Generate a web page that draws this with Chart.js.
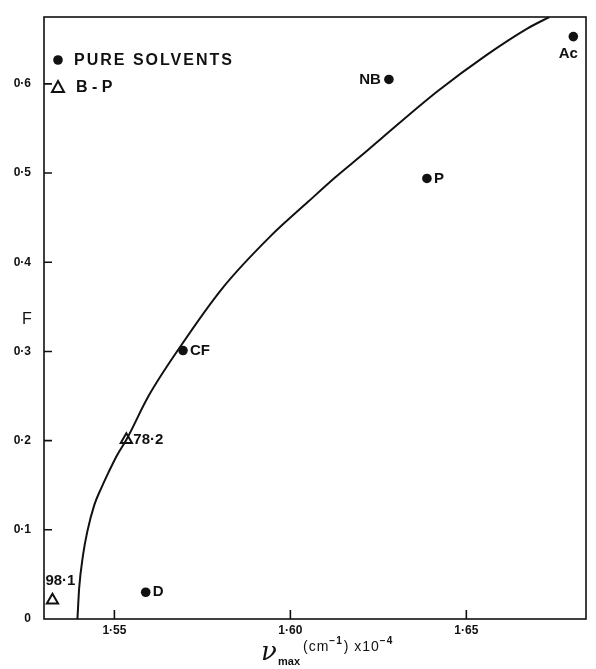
<!DOCTYPE html>
<html><head><meta charset="utf-8">
<script src="https://cdn.jsdelivr.net/npm/chart.js@4.4.0/dist/chart.umd.min.js"></script>
<style>html,body{margin:0;padding:0;background:#fff}#wrap{width:596px;height:669px;position:relative}</style>
</head><body><div id="wrap"><canvas id="c" width="596" height="669"></canvas></div>
<script>
// ---- data ----
const xTicks = [1.55, 1.60, 1.65];
const yTicks = [0, 0.1, 0.2, 0.3, 0.4, 0.5, 0.6];
const solventNames = ['Ac', 'NB', 'P', 'CF', 'D'];
const solventX = [1.6804, 1.6280, 1.6388, 1.5695, 1.5589];
const solventY = [0.653, 0.605, 0.494, 0.301, 0.030];
const mixNames = ['78·2', '98·1'];
const mixX = [1.5534, 1.5324];
const mixY = [0.201, 0.021];
const curveX = [1.5395, 1.5400, 1.5411, 1.5423, 1.5443, 1.5463, 1.5484, 1.5508, 1.5534, 1.5597, 1.5690, 1.5805, 1.5943, 1.6051, 1.6127, 1.6212, 1.6265, 1.6419, 1.6556, 1.6673, 1.6736];
const curveY = [0.000, 0.035, 0.072, 0.098, 0.128, 0.147, 0.165, 0.184, 0.201, 0.250, 0.307, 0.370, 0.429, 0.468, 0.495, 0.523, 0.541, 0.592, 0.632, 0.662, 0.675];
const legendNames = ['PURE SOLVENTS', 'B - P'];

// label placement (style, not data)
const solventLabelPos = ['below', 'left', 'right', 'right', 'right'];
const mixLabelPos = ['right', 'above'];

const INK = '#111';
const FONT = '"Liberation Sans", Arial, sans-serif';

function fmt(v) { return v === 0 ? '0' : v.toFixed(v >= 1 ? 2 : 1).replace('.', '·'); }

const decor = {
  id: 'decor',
  afterDraw(chart) {
    const { ctx, chartArea: a, scales: { x, y } } = chart;
    ctx.save();
    ctx.strokeStyle = INK; ctx.lineWidth = 1.6;
    ctx.strokeRect(a.left, a.top, a.right - a.left, a.bottom - a.top);
    ctx.beginPath();
    yTicks.forEach(v => { if (v === 0) return; const py = y.getPixelForValue(v); ctx.moveTo(a.left, py); ctx.lineTo(a.left + 8, py); });
    xTicks.forEach(v => { const px = x.getPixelForValue(v); ctx.moveTo(px, a.bottom); ctx.lineTo(px, a.bottom - 9); });
    ctx.stroke();

    ctx.fillStyle = INK;
    // point labels
    ctx.font = 'bold 15px ' + FONT;
    ctx.textBaseline = 'middle';
    const s0 = chart.getDatasetMeta(1).data;
    s0.forEach((el, i) => {
      const pos = solventLabelPos[i];
      if (pos === 'below') { ctx.textAlign = 'center'; ctx.fillText(solventNames[i], el.x - 5, el.y + 17); }
      else if (pos === 'left') { ctx.textAlign = 'right'; ctx.fillText(solventNames[i], el.x - 8, el.y); }
      else { ctx.textAlign = 'left'; ctx.fillText(solventNames[i], el.x + 7, el.y); }
    });
    const s1 = chart.getDatasetMeta(2).data;
    s1.forEach((el, i) => {
      const pos = mixLabelPos[i];
      if (pos === 'above') { ctx.textAlign = 'center'; ctx.fillText(mixNames[i], el.x + 8, el.y - 19); }
      else { ctx.textAlign = 'left'; ctx.fillText(mixNames[i], el.x + 7, el.y); }
    });

    // legend
    ctx.font = 'bold 16px ' + FONT;
    ctx.textAlign = 'left';
    try { ctx.letterSpacing = '2px'; } catch (e) {}
    const lx = a.left + 14, ly1 = a.top + 43, ly2 = a.top + 70;
    ctx.beginPath(); ctx.arc(lx, ly1, 4.8, 0, Math.PI * 2); ctx.fill();
    ctx.fillText(legendNames[0], lx + 16, ly1 + 1);
    try { ctx.letterSpacing = '0px'; } catch (e) {}
    ctx.lineWidth = 2;
    ctx.beginPath(); ctx.moveTo(lx, ly2 - 6); ctx.lineTo(lx + 6, ly2 + 5); ctx.lineTo(lx - 6, ly2 + 5); ctx.closePath(); ctx.stroke();
    ctx.fillText(legendNames[1], lx + 18, ly2 + 1);

    // axis titles
    ctx.font = '16px ' + FONT;
    ctx.textAlign = 'center';
    ctx.fillText('F', 27, (a.top + a.bottom) / 2 + 2);
    ctx.textAlign = 'left'; ctx.textBaseline = 'alphabetic';
    ctx.font = 'italic 26px "DejaVu Serif", serif';
    ctx.fillText('ν', 261, 660);
    ctx.font = 'bold 11px ' + FONT;
    ctx.fillText('max', 278, 665);
    let cx = 303;
    try { ctx.letterSpacing = '1px'; } catch (e) {}
    const piece = (t, f, dy) => { ctx.font = f; ctx.fillText(t, cx, 651 + dy); cx += ctx.measureText(t).width; };
    piece('(cm', '14px ' + FONT, 0);
    piece('−1', 'bold 10px ' + FONT, -7);
    cx += 1;
    piece(') x10', '14px ' + FONT, 0);
    piece('−4', 'bold 10px ' + FONT, -7);
    try { ctx.letterSpacing = '0px'; } catch (e) {}
    ctx.restore();
  }
};

new Chart(document.getElementById('c'), {
  type: 'scatter',
  data: {
    datasets: [
      {
        type: 'line',
        data: curveX.map((v, i) => ({ x: v, y: curveY[i] })),
        borderColor: INK, borderWidth: 2, pointRadius: 0, fill: false, cubicInterpolationMode: 'monotone'
      },
      {
        data: solventX.map((v, i) => ({ x: v, y: solventY[i] })),
        pointStyle: 'circle', pointRadius: 4.8, backgroundColor: INK, borderColor: INK, borderWidth: 0
      },
      {
        data: mixX.map((v, i) => ({ x: v, y: mixY[i] })),
        pointStyle: 'triangle', pointRadius: 6.5, backgroundColor: 'rgba(0,0,0,0)', borderColor: INK, borderWidth: 2
      }
    ]
  },
  options: {
    responsive: false, animation: false,
    layout: { padding: { top: 17, right: 10, left: 0, bottom: 0 } },
    plugins: { legend: { display: false }, tooltip: { enabled: false } },
    scales: {
      x: {
        type: 'linear', min: 1.53, max: 1.684,
        afterBuildTicks: s => { s.ticks = xTicks.map(v => ({ value: v })); },
        afterFit: s => { s.height = 50; },
        grid: { display: false, drawTicks: false }, border: { display: false },
        ticks: { callback: v => fmt(v), color: INK, padding: 4, maxRotation: 0, font: { family: FONT, size: 12, weight: 'bold' } }
      },
      y: {
        type: 'linear', min: 0, max: 0.675,
        afterBuildTicks: s => { s.ticks = yTicks.map(v => ({ value: v })); },
        afterFit: s => { s.width = 44; },
        grid: { display: false }, border: { display: false },
        ticks: { callback: v => fmt(v), color: INK, padding: 5, font: { family: FONT, size: 12, weight: 'bold' } }
      }
    }
  },
  plugins: [decor]
});
</script></body></html>
